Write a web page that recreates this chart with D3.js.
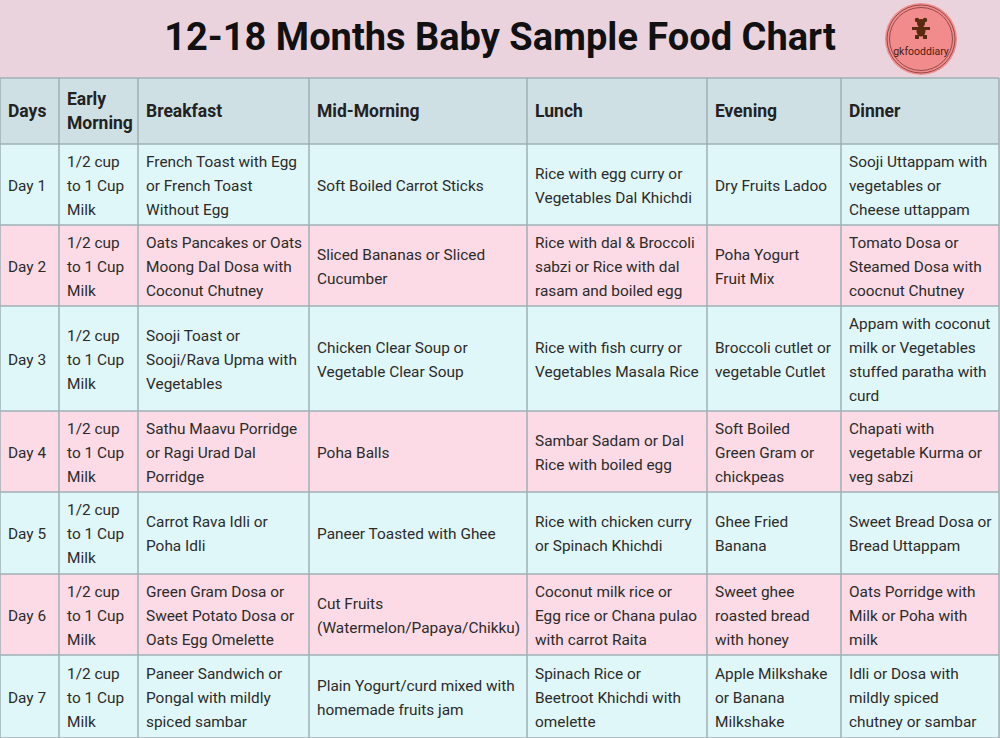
<!DOCTYPE html>
<html><head><meta charset="utf-8">
<script src="https://cdn.jsdelivr.net/npm/d3@7"></script>
<style>body{margin:0;background:#ebd3de}svg{display:block}</style>
</head><body>
<svg id="c" width="1000" height="738"></svg>
<script>
const title = "12-18 Months Baby Sample Food Chart";
const headers = ["Days","Early\nMorning","Breakfast","Mid-Morning","Lunch","Evening","Dinner"];
const days = ["Day 1","Day 2","Day 3","Day 4","Day 5","Day 6","Day 7"];
const earlyMorning = Array(7).fill("1/2 cup\nto 1 Cup\nMilk");
const breakfast = [
 "French Toast with Egg\nor French Toast\nWithout Egg",
 "Oats Pancakes or Oats\nMoong Dal Dosa with\nCoconut Chutney",
 "Sooji Toast or\nSooji/Rava Upma with\nVegetables",
 "Sathu Maavu Porridge\nor Ragi Urad Dal\nPorridge",
 "Carrot Rava Idli or\nPoha Idli",
 "Green Gram Dosa or\nSweet Potato Dosa or\nOats Egg Omelette",
 "Paneer Sandwich or\nPongal with mildly\nspiced sambar"];
const midMorning = [
 "Soft Boiled Carrot Sticks",
 "Sliced Bananas or Sliced\nCucumber",
 "Chicken Clear Soup or\nVegetable Clear Soup",
 "Poha Balls",
 "Paneer Toasted with Ghee",
 "Cut Fruits\n(Watermelon/Papaya/Chikku)",
 "Plain Yogurt/curd mixed with\nhomemade fruits jam"];
const lunch = [
 "Rice with egg curry or\nVegetables Dal Khichdi",
 "Rice with dal & Broccoli\nsabzi or Rice with dal\nrasam and boiled egg",
 "Rice with fish curry or\nVegetables Masala Rice",
 "Sambar Sadam or Dal\nRice with boiled egg",
 "Rice with chicken curry\nor Spinach Khichdi",
 "Coconut milk rice or\nEgg rice or Chana pulao\nwith carrot Raita",
 "Spinach Rice or\nBeetroot Khichdi with\nomelette"];
const evening = [
 "Dry Fruits Ladoo",
 "Poha Yogurt\nFruit Mix",
 "Broccoli cutlet or\nvegetable Cutlet",
 "Soft Boiled\nGreen Gram or\nchickpeas",
 "Ghee Fried\nBanana",
 "Sweet ghee\nroasted bread\nwith honey",
 "Apple Milkshake\nor Banana\nMilkshake"];
const dinner = [
 "Sooji Uttappam with\nvegetables or\nCheese uttappam",
 "Tomato Dosa or\nSteamed Dosa with\ncoocnut Chutney",
 "Appam with coconut\nmilk or Vegetables\nstuffed paratha with\ncurd",
 "Chapati with\nvegetable Kurma or\nveg sabzi",
 "Sweet Bread Dosa or\nBread Uttappam",
 "Oats Porridge with\nMilk or Poha with\nmilk",
 "Idli or Dosa with\nmildly spiced\nchutney or sambar"];

const colEdges = [0,59,138,309,527,707,841,999];
const rowEdges = [78,144,225,306,411,492,574,655,738];
const columns = [days,earlyMorning,breakfast,midMorning,lunch,evening,dinner];

const svg = d3.select("#c");
svg.append("rect").attr("width",1000).attr("height",738).attr("fill","#ebd3de");
svg.append("text").attr("x",500).attr("y",50).attr("text-anchor","middle")
 .attr("font-family","Roboto").attr("font-weight","bold").attr("font-size",38)
 .attr("fill","#111").text(title);
// logo
const lg = svg.append("g").attr("transform","translate(921,39)");
lg.append("circle").attr("r",36).attr("fill","#f28b8b");
lg.append("circle").attr("r",34).attr("fill","none").attr("stroke","#7a3a3a").attr("stroke-width",0.8);
lg.append("circle").attr("r",31.5).attr("fill","none").attr("stroke","#7a3a3a").attr("stroke-width",0.8);
lg.append("text").attr("y",16).attr("text-anchor","middle").attr("font-family","Roboto").attr("font-size",10.5).attr("fill","#4a2010").text("gkfooddiary");
const bear = lg.append("g").attr("transform","translate(0,-10)").attr("fill","#5a2a10");
bear.append("circle").attr("cx",-4).attr("cy",-9).attr("r",2.2);
bear.append("circle").attr("cx",4).attr("cy",-9).attr("r",2.2);
bear.append("circle").attr("cy",-6).attr("r",4);
bear.append("ellipse").attr("cy",2).attr("rx",4.5).attr("ry",5.5);
bear.append("rect").attr("x",-9).attr("y",-2).attr("width",18).attr("height",3);
bear.append("rect").attr("x",-6).attr("y",6).attr("width",4).attr("height",4);
bear.append("rect").attr("x",2).attr("y",6).attr("width",4).attr("height",4);

const x = d3.scaleOrdinal().domain(d3.range(7)).range(colEdges.slice(0,7));
const rowFill = r => r===0 ? "#cfe0e5" : (r%2===1 ? "#e0f7fa" : "#fcdbe6");

const allRows = [headers].concat(days.map((d,r)=>columns.map(c=>c[r])));
const g = svg.append("g");
allRows.forEach((row,r)=>{
  const y0 = rowEdges[r], y1 = rowEdges[r+1];
  g.append("rect").attr("x",0).attr("y",y0).attr("width",999).attr("height",y1-y0).attr("fill",rowFill(r));
  row.forEach((txt,ci)=>{
    const lines = txt.split("\n");
    const lh = 24, cy = (y0+y1)/2;
    const t = g.append("text").attr("font-family","Roboto").attr("font-size", r===0?17.5:15.4)
      .attr("font-weight", r===0?"bold":"normal").attr("fill", r===0?"#222":"#2b2b2b");
    lines.forEach((l,li)=>{
      t.append("tspan").attr("x",x(ci)+8).attr("y",cy+(li-(lines.length-1)/2)*lh+6).text(l);
    });
  });
});
rowEdges.forEach(y=>g.append("line").attr("x1",0).attr("x2",999).attr("y1",y).attr("y2",y).attr("stroke","#9fb0b4").attr("stroke-width",1.5));
colEdges.forEach(cx=>g.append("line").attr("x1",cx).attr("x2",cx).attr("y1",78).attr("y2",738).attr("stroke","#9fb0b4").attr("stroke-width",1.5));
</script>
</body></html>
